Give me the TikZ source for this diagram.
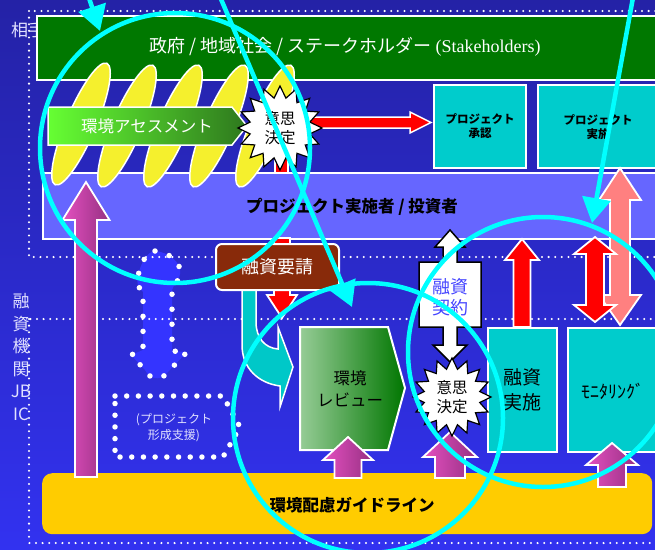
\documentclass[tikz,border=0pt]{standalone}
\usepackage{fontspec}
\setmainfont{Noto Sans CJK JP}
\newfontfamily\serfont{Liberation Serif}
\usetikzlibrary{shapes.geometric,arrows.meta}

\definecolor{bgtop}{RGB}{36,34,166}
\definecolor{bgbot}{RGB}{50,50,240}
\definecolor{stkgreen}{RGB}{0,120,0}
\definecolor{implpurple}{RGB}{102,102,255}
\definecolor{cyanbox}{RGB}{0,204,204}
\definecolor{tealarr}{RGB}{0,200,200}
\definecolor{guideyellow}{RGB}{255,204,0}
\definecolor{annoyellow}{RGB}{245,240,45}
\definecolor{brownbox}{RGB}{136,42,10}
\definecolor{pinkarr}{RGB}{255,128,128}
\definecolor{magL}{RGB}{228,80,192}
\definecolor{magR}{RGB}{150,48,130}
\definecolor{annocyan}{RGB}{0,255,255}
\definecolor{lightlbl}{RGB}{225,225,255}
\definecolor{contractblue}{RGB}{70,70,255}
\definecolor{dotblue}{RGB}{52,52,255}
\definecolor{assessL}{RGB}{102,255,51}
\definecolor{assessR}{RGB}{46,120,30}
\definecolor{revL}{RGB}{150,204,150}
\definecolor{revR}{RGB}{0,118,0}

% up (or down) block arrow: x, ytip, yheadbase, halfhead, halfshaft, yend
\newcommand\UpArr[6]{(#1,#2) -- ({#1+#4},#3) -- ({#1+#5},#3) -- ({#1+#5},#6) -- ({#1-#5},#6) -- ({#1-#5},#3) -- ({#1-#4},#3) -- cycle}
% double block arrow: x, ytop, yhead1, yhead2, ybot, halfhead, halfshaft
\newcommand\DblArr[7]{(#1,#2) -- ({#1+#6},#3) -- ({#1+#7},#3) -- ({#1+#7},#4) -- ({#1+#6},#4) -- (#1,#5) -- ({#1-#6},#4) -- ({#1-#7},#4) -- ({#1-#7},#3) -- ({#1-#6},#3) -- cycle}

\tikzset{
  wbox/.style={draw=white, line width=2pt, inner sep=0pt, anchor=north west},
  cbox/.style={wbox, fill=cyanbox},
  smalldots/.style={draw=white, line width=2.3pt, line cap=round, dash pattern=on 0pt off 6.6pt},
  bigdots/.style={draw=white, line width=5.5pt, line cap=round, dash pattern=on 0pt off 11.7pt},
  burst/.style={star, star points=16, star point ratio=1.38, draw=black, fill=white,
    line width=1.2pt, inner sep=0pt, align=center, font=\fontsize{15.5}{19.5}\selectfont},
  blockw/.style={draw=white, line width=1.8pt},
  anno/.style={draw=annocyan, line width=4.5pt},
  annotip/.style={-{Triangle[length=25pt,width=28pt]}},
  lbl/.style={text=lightlbl, inner sep=0pt}
}

\begin{document}
\begin{tikzpicture}[x=1pt,y=-1pt]
\useasboundingbox (0,0) rectangle (655,549);
\clip (0,0) rectangle (655,549);
\shade[top color=bgtop, bottom color=bgbot] (0,0) rectangle (655,549);

% side labels
\node[lbl, anchor=west, font=\fontsize{17}{19}\selectfont] (partner) at (11,30) {相手国};

% dotted blue arrow (project formation support)
\path[fill=dotblue, bigdots, dash pattern=on 0pt off 15pt] (155,251) .. controls (168,252) and (182,262) .. (180,274) .. controls (179,282) and (173,285) .. (172,290) -- (172,351) -- (187,352) -- (165,375) .. controls (160,380) and (150,380) .. (145,370) -- (131,355) -- (143,350) -- (143,292) .. controls (138,288) and (136,282) .. (138,276) .. controls (141,262) and (147,252) .. (155,251) -- cycle;

% dotted regions
\draw[smalldots] (29,11) rectangle (700,257);
\draw[smalldots] (29,319) rectangle (700,543);
\node[lbl, align=center, font=\fontsize{17}{22.5}\selectfont] (jbic) at (21,357) {融\\資\\機\\関\\JB\\IC};

% stakeholders
\node[wbox, fill=stkgreen, minimum width=640pt, minimum height=64pt] (stake) at (36,15) {};
\node[text=white, font=\fontsize{18}{20}\selectfont] (staketext) at (345,47) {政府 / 地域社会 / ステークホルダー {\serfont (Stakeholders)}};

% implementer
\node[wbox, fill=implpurple, minimum width=640pt, minimum height=66pt] (impl) at (42,172) {};
\node[font=\fontsize{16.5}{19}\selectfont\bfseries] (impltext) at (352,207) {プロジェクト実施者 / 投資者};

% guideline bar
\node[fill=guideyellow, rounded corners=10pt, minimum width=610pt, minimum height=61pt, anchor=north west, inner sep=0pt] (guide) at (42,473) {};
\node[font=\fontsize{16.5}{19}\selectfont\bfseries] (guidetext) at (352,505) {環境配慮ガイドライン};

% yellow ellipses
\foreach \cx/\cy in {81/124,127/126,173/126,219/126,265/126}
  \draw[white, line width=1.5pt, fill=annoyellow, shift={(\cx,\cy)}, rotate=67] (0,0) ellipse (66pt and 15pt);

% environmental assessment arrow
\path[draw=white, line width=1.5pt, left color=assessL, right color=assessR] (48,107) -- (232,107) -- (247,126) -- (232,145) -- (48,145) -- cycle;
\node[text=white, font=\fontsize{16.5}{19}\selectfont] (assess) at (147,126) {環境アセスメント};

% red links at decision 1
\draw[white, fill=red, line width=1.2pt] (275,145) rectangle (288,173);
\path[draw=white, fill=red, line width=1.5pt] (300,117) -- (410,117) -- (410,112) -- (431,122.5) -- (410,133) -- (410,128) -- (300,128) -- cycle;
\node[burst, minimum size=84pt] (decide1) at (280,128) {意思\\決定};

% project approval / implementation
\node[cbox, minimum width=92pt, minimum height=83pt, align=center, font=\fontsize{11.5}{14}\selectfont\bfseries] (approve) at (433,84) {プロジェクト\\承認};
\node[cbox, minimum width=130pt, minimum height=83pt] (projimpl) at (537,84) {};
\node[align=center, font=\fontsize{11.5}{14}\selectfont\bfseries] (projimpltext) at (598,127) {プロジェクト\\実施};

% arrows on the right
\path[blockw, fill=pinkarr] \DblArr{620}{168}{200}{295}{325}{21}{10};
\path[blockw, fill=red] \DblArr{595}{237}{254}{305}{322}{21}{9};
\path[blockw, fill=red] \UpArr{522}{239}{260}{17}{8.5}{327};

% big left magenta arrow
\path[blockw, left color=magL, right color=magR] \UpArr{86}{182}{220}{23.5}{11}{477};

% finance request
\path[draw=white, line width=1.5pt, fill=tealarr] (242,289) -- (242,345) .. controls (242,368) and (258,383) .. (280,386) -- (280,407) -- (293,367) -- (278,327) -- (278,349) .. controls (265,348) and (256,338) .. (256,322) -- (256,289) -- cycle;
\path[blockw, fill=red] \UpArr{282}{318}{295}{15}{8}{238};
\node[draw=white, line width=2pt, fill=brownbox, rounded corners=6pt, minimum width=123pt, minimum height=46pt, anchor=north west, inner sep=0pt, text=white, font=\fontsize{18}{20}\selectfont] (request) at (215,243) {融資要請};

% environmental review
\path[draw=white, line width=2pt, left color=revL, right color=revR] (300,327) -- (388,327) -- (405,388) -- (388,450) -- (300,450) -- cycle;
\node[align=center, font=\fontsize{16.5}{22}\selectfont] (review) at (350,389) {環境\\レビュー};

% loan agreement
\path[draw=black, line width=1.5pt, fill=white] (450,230) -- (465,247) -- (457,247) -- (457,262) -- (481,262) -- (481,327) -- (457,327) -- (457,345) -- (467,345) -- (450,362) -- (433,345) -- (443,345) -- (443,327) -- (419,327) -- (419,262) -- (443,262) -- (443,247) -- (435,247) -- cycle;
\node[text=contractblue, align=center, font=\fontsize{18}{21}\selectfont] (contract) at (450,297) {融資\\契約};

% loan execution / monitoring
\node[cbox, minimum width=69pt, minimum height=124pt, align=center, font=\fontsize{19}{25}\selectfont] (execute) at (487,327) {融資\\実施};
\node[cbox, minimum width=100pt, minimum height=124pt] (monitor) at (567,327) {};
\node[font=\fontsize{18}{20}\selectfont] (monitortext) at (613,391) {ﾓﾆﾀﾘﾝｸﾞ};

% small magenta arrows from guideline
\path[blockw, left color=magL, right color=magR] \UpArr{348}{437}{460}{25}{13.5}{478};
\path[blockw, left color=magL, right color=magR] \UpArr{450}{432}{457}{27}{15}{478};
\path[blockw, left color=magL, right color=magR] \UpArr{612}{443}{465}{26}{14}{487};

\node[burst, minimum size=78pt] (decide2) at (452,397) {意思\\決定};

% project formation support box
\draw[bigdots] (115,396) -- (223,396) -- (240,427) -- (223,457) -- (115,457) -- cycle;
\node[lbl, align=center, font=\fontsize{12}{16}\selectfont] (support) at (174,428) {(プロジェクト\\形成支援)};

% cyan annotations
\draw[anno] (175,148) circle (135pt);
\draw[anno] (368,418) circle (135pt);
\draw[anno] (543,352) circle (135pt);
\coordinate (a1s) at (87,-8);
\coordinate (a1e) at (100,31);
\coordinate (a2s) at (218,-8);
\coordinate (a2e) at (352,307);
\coordinate (a3s) at (634,-8);
\coordinate (a3e) at (592,223);
\draw[anno, annotip] (a1s) -- (a1e);
\draw[anno, annotip] (a2s) -- (a2e);
\draw[anno, annotip] (a3s) -- (a3e);
\end{tikzpicture}
\end{document}
